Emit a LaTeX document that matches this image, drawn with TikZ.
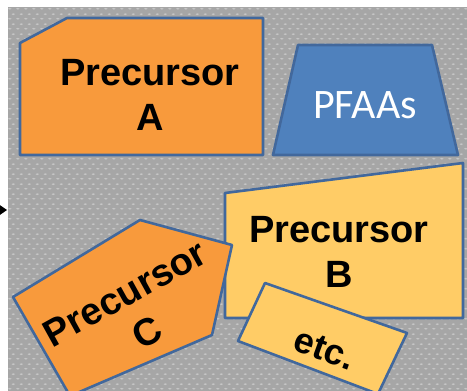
\documentclass[tikz,border=0pt]{standalone}
\usepackage{fontspec}
\setmainfont{Liberation Sans}
\newfontfamily\calibrifont{Carlito}
\usetikzlibrary{patterns}

% light dotted texture for the grey backdrop
\pgfdeclarepatternformonly{bgdots}{\pgfqpoint{0pt}{0pt}}{\pgfqpoint{8pt}{10pt}}{\pgfqpoint{8pt}{10pt}}{%
  \pgfpathellipse{\pgfqpoint{2pt}{2.5pt}}{\pgfqpoint{2pt}{0pt}}{\pgfqpoint{0pt}{1pt}}%
  \pgfpathellipse{\pgfqpoint{6pt}{7.5pt}}{\pgfqpoint{2pt}{0pt}}{\pgfqpoint{0pt}{1pt}}%
  \pgfusepath{fill}%
}

\definecolor{bggray}{HTML}{A6A6A6}
\definecolor{bgdot}{HTML}{C6C6C6}
\definecolor{precorange}{HTML}{F89A3C}
\definecolor{precgold}{HTML}{FFCC66}
\definecolor{edgeblue}{HTML}{42689C}
\definecolor{pfaablue}{HTML}{4F81BD}

\tikzset{
  blob/.style={draw=edgeblue, line width=2.6pt, line join=round},
  bigtext/.style={font=\fontsize{38}{45}\selectfont\bfseries, align=center, text=black, inner sep=0pt},
  thintext/.style={font=\calibrifont\fontsize{42}{50}\selectfont, text=white, inner sep=0pt}
}

\begin{document}
\begin{tikzpicture}[x=1pt, y=-1pt]
  \useasboundingbox (0,0) rectangle (467,391);
  \clip (0,0) rectangle (467,391);
  \fill[white] (0,0) rectangle (467,391);

  % backdrop
  \fill[bggray] (8,7) rectangle (467,391);
  \fill[pattern=bgdots, pattern color=bgdot] (8,7) rectangle (467,391);

  % arrow tip entering from the left
  \fill[black] (-6,201) -- (7,210) -- (-6,219) -- cycle;

  % Precursor A
  \filldraw[blob, fill=precorange] (20,43) -- (67,18) -- (263,18) -- (263,155) -- (20,155) -- cycle;
  \node[bigtext] (precA) at (150,95) {Precursor\\A};

  % PFAAs
  \filldraw[blob, fill=pfaablue] (298,45) -- (432,45) -- (458,155) -- (273,155) -- cycle;
  \node[thintext] (pfaas) at (365,105) {PFAAs};

  % Precursor B
  \filldraw[blob, fill=precgold] (225,193) -- (463,163) -- (463,318) -- (225,318) -- cycle;
  \node[bigtext] (precB) at (339,252) {Precursor\\B};

  % Precursor C
  \filldraw[blob, fill=precorange] (13,297) -- (140,220) -- (232,245) -- (212,335) -- (70,396) -- cycle;
  \node[bigtext, rotate=29] (precC) at (136,313) {Precursor\\C};

  % etc.
  \filldraw[blob, fill=precgold] (265,283) -- (407,333) -- (378,394) -- (238,341) -- cycle;
  \node[bigtext, font=\fontsize{36}{43}\selectfont\bfseries, rotate=-20] (etc) at (325,349) {etc.};
\end{tikzpicture}
\end{document}
